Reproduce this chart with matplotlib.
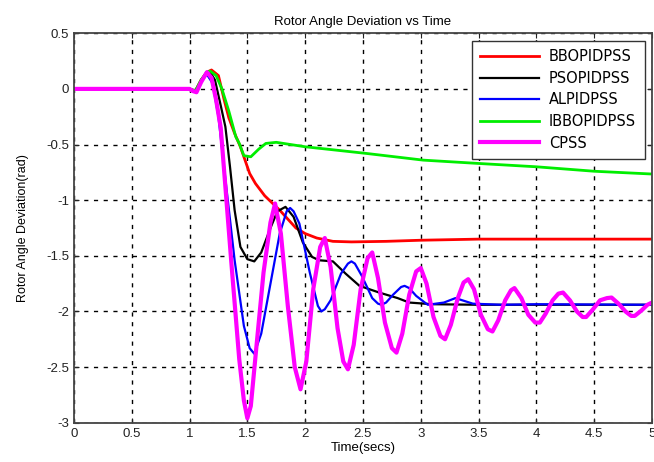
import matplotlib.pyplot as plt
import numpy as np

plt.rcParams['font.family'] = ['Liberation Sans', 'DejaVu Sans']

# BBOPIDPSS (red)
t_bbo = [0, 1.0, 1.05, 1.1, 1.15, 1.19, 1.25, 1.30, 1.34, 1.39, 1.44, 1.52, 1.57,
         1.65, 1.72, 1.78, 1.85, 1.92, 2.0, 2.1, 2.24, 2.4, 2.7, 3.0, 3.5, 4.0, 5.0]
y_bbo = [0, 0, -0.02, 0.08, 0.15, 0.17, 0.12, -0.10, -0.26, -0.40, -0.52, -0.76, -0.85,
         -0.96, -1.03, -1.09, -1.17, -1.25, -1.30, -1.34, -1.37, -1.375, -1.37, -1.36,
         -1.35, -1.35, -1.35]

# PSOPIDPSS (black)
t_pso = [0, 1.0, 1.05, 1.1, 1.15, 1.18, 1.22, 1.27, 1.31, 1.35, 1.39, 1.44, 1.50, 1.56,
         1.62, 1.70, 1.76, 1.83, 1.90, 1.98, 2.06, 2.12, 2.24, 2.35, 2.47, 2.64, 2.8,
         2.9, 3.1, 3.5, 4.0, 5.0]
y_pso = [0, 0, -0.02, 0.08, 0.15, 0.15, 0.08, -0.15, -0.34, -0.70, -1.09, -1.42, -1.53,
         -1.55, -1.47, -1.25, -1.10, -1.06, -1.15, -1.38, -1.51, -1.54, -1.55, -1.66,
         -1.77, -1.83, -1.88, -1.92, -1.935, -1.94, -1.94, -1.94]

# ALPIDPSS (blue)
t_al = [0, 1.0, 1.05, 1.1, 1.15, 1.2, 1.25, 1.32, 1.39, 1.47, 1.52, 1.56, 1.62, 1.70,
        1.78, 1.84, 1.87, 1.90, 1.95, 2.04, 2.11, 2.14, 2.17, 2.22, 2.31, 2.37, 2.40,
        2.43, 2.49, 2.58, 2.63, 2.66, 2.70, 2.76, 2.83, 2.86, 2.90, 2.96, 3.06, 3.2,
        3.3, 3.45, 3.7, 4.0, 5.0]
y_al = [0, 0, -0.02, 0.07, 0.13, 0.05, -0.25, -0.90, -1.54, -2.13, -2.33, -2.38, -2.20,
        -1.75, -1.30, -1.10, -1.07, -1.10, -1.21, -1.65, -1.95, -2.0, -1.98, -1.90,
        -1.66, -1.57, -1.55, -1.57, -1.68, -1.88, -1.93, -1.94, -1.92, -1.85, -1.78,
        -1.77, -1.79, -1.86, -1.94, -1.92, -1.88, -1.93, -1.94, -1.935, -1.94]

# IBBOPIDPSS (green)
t_ibbo = [0, 1.0, 1.05, 1.1, 1.15, 1.18, 1.23, 1.28, 1.34, 1.40, 1.43, 1.47, 1.53, 1.6,
          1.66, 1.75, 2.0, 2.53, 3.02, 3.5, 4.0, 4.5, 5.0]
y_ibbo = [0, 0, -0.02, 0.08, 0.15, 0.16, 0.12, 0.0, -0.20, -0.43, -0.49, -0.60, -0.61,
          -0.54, -0.49, -0.48, -0.52, -0.58, -0.64, -0.67, -0.70, -0.74, -0.765]

# CPSS (magenta)
t_cpss = [0, 1.0, 1.03, 1.06, 1.1, 1.15, 1.19, 1.23, 1.27, 1.36, 1.43, 1.47, 1.50, 1.53,
          1.58, 1.64, 1.70, 1.74, 1.79, 1.85, 1.91, 1.96, 2.01, 2.07, 2.13, 2.17, 2.22,
          2.28, 2.33, 2.37, 2.42, 2.48, 2.54, 2.58, 2.63, 2.69, 2.75, 2.79, 2.84, 2.90,
          2.96, 3.0, 3.05, 3.11, 3.17, 3.21, 3.26, 3.32, 3.37, 3.41, 3.46, 3.52, 3.58,
          3.62, 3.67, 3.73, 3.78, 3.81, 3.87, 3.93, 3.99, 4.03, 4.08, 4.14, 4.19, 4.23,
          4.29, 4.35, 4.40, 4.43, 4.49, 4.55, 4.61, 4.65, 4.71, 4.77, 4.82, 4.85, 4.91,
          4.96, 5.0]
y_cpss = [0, 0, -0.02, -0.03, 0.06, 0.15, 0.10, -0.10, -0.35, -1.54, -2.43, -2.80, -2.96,
          -2.85, -2.30, -1.65, -1.20, -1.03, -1.30, -1.95, -2.50, -2.70, -2.45, -1.80,
          -1.42, -1.34, -1.60, -2.15, -2.45, -2.52, -2.30, -1.80, -1.52, -1.47, -1.70,
          -2.10, -2.33, -2.37, -2.20, -1.85, -1.64, -1.61, -1.75, -2.05, -2.22, -2.25,
          -2.12, -1.88, -1.74, -1.71, -1.80, -2.03, -2.16, -2.18, -2.08, -1.90, -1.81,
          -1.79, -1.88, -2.03, -2.10, -2.10, -2.02, -1.90, -1.84, -1.83, -1.90, -2.00,
          -2.05, -2.05, -1.98, -1.90, -1.88, -1.875, -1.93, -2.00, -2.04, -2.04, -1.99,
          -1.94, -1.92]

fig = plt.figure(figsize=(6.54, 4.62), dpi=100)
ax = fig.add_axes([0.113, 0.085, 0.884, 0.843])

ax.plot(t_bbo, y_bbo, color='#ff0000', lw=2, label='BBOPIDPSS')
ax.plot(t_pso, y_pso, color='black', lw=1.6, label='PSOPIDPSS')
ax.plot(t_al, y_al, color='#0000ff', lw=1.6, label='ALPIDPSS')
ax.plot(t_ibbo, y_ibbo, color='#00ee00', lw=2, label='IBBOPIDPSS')
ax.plot(t_cpss, y_cpss, color='#ff00ff', lw=3, label='CPSS')

ax.set_xlim(0, 5)
ax.set_ylim(-3, 0.5)
ax.set_xticks(np.arange(0, 5.01, 0.5))
ax.set_xticklabels(['0', '0.5', '1', '1.5', '2', '2.5', '3', '3.5', '4', '4.5', '5'])
ax.set_yticks(np.arange(-3, 0.51, 0.5))
ax.set_yticklabels(['-3', '-2.5', '-2', '-1.5', '-1', '-0.5', '0', '0.5'])
ax.grid(True, color='black', linestyle=(0, (3, 4)), lw=1)
ax.tick_params(direction='in', top=True, right=True, labelsize=9.5, colors='#222222')
for s in ax.spines.values():
    s.set_color('#444444')
    s.set_linewidth(1.3)

ax.set_title('Rotor Angle Deviation vs Time', fontsize=9.5, pad=6)
ax.set_xlabel('Time(secs)', fontsize=9.5, labelpad=2)
ax.set_ylabel('Rotor Angle Deviation(rad)', fontsize=9, labelpad=12)

leg = ax.legend(loc='upper right', fontsize=10.5, fancybox=False, framealpha=1,
                edgecolor='#333333', handlelength=4.0, handletextpad=0.7,
                borderpad=0.6, labelspacing=0.45, borderaxespad=0.5)
leg.get_frame().set_linewidth(1)
for txt in leg.get_texts():
    txt.set_family(['DejaVu Sans'])

fig.savefig('out.png', dpi=100)
